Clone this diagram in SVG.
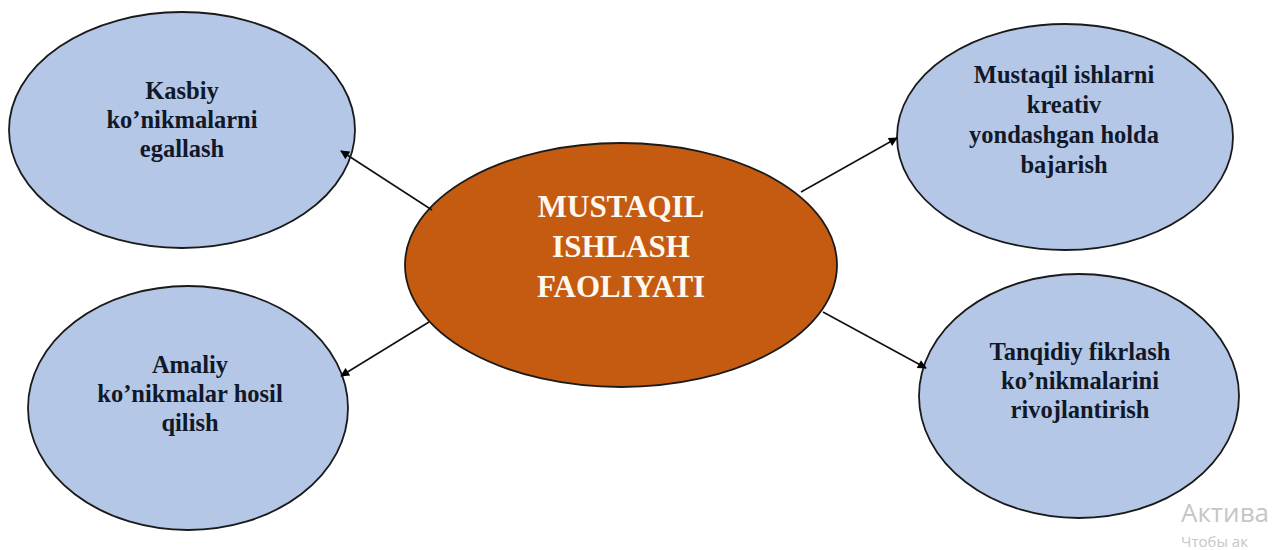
<svg xmlns="http://www.w3.org/2000/svg" width="1277" height="550" viewBox="0 0 1277 550">
<defs>
<marker id="arr" viewBox="0 0 10 10" refX="9" refY="5" markerWidth="10" markerHeight="9" markerUnits="userSpaceOnUse" orient="auto">
<path d="M0,0 L10,5 L0,10 z" fill="#000"/>
</marker>
<style>
.sat{fill:#b4c7e7;stroke:#1a1a1a;stroke-width:1.8}
.core{fill:#c55a11;stroke:#1a1a1a;stroke-width:1.8}
.t{font-family:"Liberation Serif","Times New Roman",serif;font-weight:bold;font-size:24.5px;fill:#111827;text-anchor:middle}
.ct{font-family:"Liberation Serif","Times New Roman",serif;font-weight:bold;font-size:31px;fill:#fff8ee;text-anchor:middle}
.conn line{stroke:#111;stroke-width:1.6;marker-end:url(#arr)}
.wm{font-family:"Open Sans","Noto Sans",sans-serif;fill:#c6c6c6}
</style>
</defs>
<rect width="1277" height="550" fill="#fff"/>
<g id="n-kasbiy">
<ellipse class="sat" cx="182" cy="130" rx="173" ry="118"/>
<text class="t" x="182" y="99">Kasbiy</text>
<text class="t" x="182" y="128">ko’nikmalarni</text>
<text class="t" x="182" y="157">egallash</text>
</g>
<g id="n-amaliy">
<ellipse class="sat" cx="188" cy="408" rx="160" ry="122"/>
<text class="t" x="190" y="373">Amaliy</text>
<text class="t" x="190" y="402">ko’nikmalar hosil</text>
<text class="t" x="190" y="431">qilish</text>
</g>
<g id="n-mustaqil">
<ellipse class="sat" cx="1065" cy="137" rx="168" ry="113"/>
<text class="t" x="1064" y="83">Mustaqil ishlarni</text>
<text class="t" x="1064" y="113">kreativ</text>
<text class="t" x="1064" y="143">yondashgan holda</text>
<text class="t" x="1064" y="173">bajarish</text>
</g>
<g id="n-tanqidiy">
<ellipse class="sat" cx="1079" cy="396" rx="160" ry="122"/>
<text class="t" x="1080" y="360">Tanqidiy fikrlash</text>
<text class="t" x="1080" y="389">ko’nikmalarini</text>
<text class="t" x="1080" y="418">rivojlantirish</text>
</g>
<g id="n-center">
<ellipse class="core" cx="621" cy="265" rx="216" ry="122"/>
<text class="ct" x="621" y="217">MUSTAQIL</text>
<text class="ct" x="621" y="257">ISHLASH</text>
<text class="ct" x="621" y="297">FAOLIYATI</text>
</g>
<g id="connectors" class="conn">
<line x1="432" y1="210" x2="341" y2="151"/>
<line x1="429" y1="322" x2="341" y2="376"/>
<line x1="801" y1="192" x2="897" y2="138"/>
<line x1="823" y1="312" x2="926" y2="368"/>
</g>
<text class="wm" x="1181" y="522" font-size="26">Актива</text>
<text class="wm" x="1181" y="547" font-size="15">Чтобы ак</text>
</svg>
